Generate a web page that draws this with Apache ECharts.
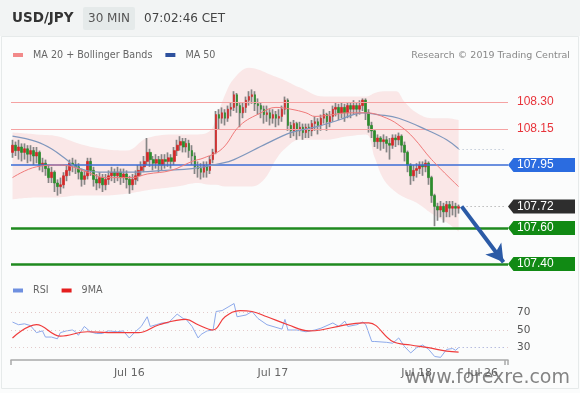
<!DOCTYPE html>
<html><head><meta charset="utf-8">
<script src="https://cdn.jsdelivr.net/npm/echarts@6/dist/echarts.min.js"></script>
<style>html,body{margin:0;padding:0;background:#fbfcfc;}#c{width:580px;height:393px;}</style>
</head><body><div id="c"></div>
<script>
// ---------- DATA ----------
const categoryCount = 166; // 30-minute slots incl. empty future slots
const dayLabels = {39: 'Jul 16', 87: 'Jul 17', 135: 'Jul 18', 157: 'Jul 26'};
// [open, close, low, high]
const ohlc = [
[108.02,108.06,107.99,108.09],[108.06,108.03,108.00,108.08],[108.03,108.05,107.98,108.09],[108.05,108.02,107.97,108.07],
[108.02,108.04,107.98,108.07],[108.04,108.01,107.96,108.06],[108.01,108.03,107.97,108.06],[108.03,108.00,107.95,108.05],
[108.00,108.02,107.96,108.05],[108.02,107.95,107.92,108.03],[107.95,107.96,107.91,107.99],[107.96,107.93,107.89,107.98],
[107.93,107.88,107.85,107.95],[107.88,107.91,107.85,107.94],[107.91,107.85,107.80,107.92],[107.85,107.83,107.78,107.87],
[107.83,107.84,107.79,107.88],[107.84,107.89,107.82,107.91],[107.89,107.92,107.86,107.95],[107.92,107.96,107.89,107.98],
[107.96,107.95,107.91,107.99],[107.95,107.94,107.90,107.98],[107.94,107.91,107.87,107.96],[107.91,107.87,107.83,107.93],
[107.87,107.89,107.84,107.92],[107.89,107.97,107.87,107.99],[107.97,107.92,107.89,107.99],[107.92,107.87,107.83,107.94],
[107.87,107.85,107.81,107.90],[107.85,107.88,107.82,107.91],[107.88,107.84,107.80,107.90],[107.84,107.87,107.81,107.90],
[107.87,107.89,107.84,107.92],[107.89,107.91,107.86,107.94],[107.91,107.89,107.85,107.93],[107.89,107.91,107.86,107.94],
[107.91,107.88,107.84,107.93],[107.88,107.90,107.85,107.93],[107.90,107.87,107.82,107.92],[107.87,107.84,107.79,107.89],
[107.84,107.87,107.81,107.90],[107.87,107.89,107.84,107.92],[107.89,107.92,107.86,107.95],[107.92,107.94,107.89,107.97],
[107.94,107.97,107.91,108.00],[107.97,108.02,107.95,108.10],[108.02,107.98,107.94,108.04],[107.98,107.96,107.92,108.00],
[107.96,107.98,107.93,108.01],[107.98,107.95,107.91,108.00],[107.95,107.98,107.92,108.01],[107.98,107.97,107.93,108.01],
[107.97,107.99,107.94,108.02],[107.99,107.97,107.93,108.01],[107.97,108.03,107.95,108.05],[108.03,108.06,108.00,108.09],
[108.06,108.08,108.03,108.11],[108.08,108.05,108.02,108.10],[108.05,108.07,108.02,108.10],[108.07,108.03,107.99,108.09],
[108.03,108.00,107.95,108.06],[108.00,107.94,107.90,108.02],[107.94,107.93,107.88,107.97],[107.93,107.91,107.87,107.96],
[107.91,107.95,107.88,107.97],[107.95,107.92,107.88,107.97],[107.92,107.98,107.90,108.00],[107.98,108.02,107.96,108.04],
[108.02,108.23,108.01,108.25],[108.23,108.21,108.15,108.26],[108.21,108.24,108.18,108.27],[108.24,108.21,108.17,108.26],
[108.21,108.26,108.19,108.28],[108.26,108.27,108.22,108.30],[108.27,108.34,108.25,108.36],[108.34,108.28,108.24,108.35],
[108.28,108.24,108.16,108.30],[108.24,108.27,108.21,108.30],[108.27,108.31,108.24,108.33],[108.31,108.33,108.28,108.36],
[108.33,108.34,108.29,108.37],[108.34,108.29,108.25,108.36],[108.29,108.28,108.23,108.32],[108.28,108.26,108.21,108.30],
[108.26,108.23,108.18,108.28],[108.23,108.24,108.19,108.28],[108.24,108.21,108.17,108.26],[108.21,108.23,108.18,108.26],
[108.23,108.21,108.16,108.25],[108.21,108.22,108.17,108.26],[108.22,108.26,108.19,108.28],[108.26,108.31,108.23,108.33],
[108.31,108.17,108.14,108.32],[108.17,108.14,108.10,108.19],[108.14,108.18,108.11,108.20],[108.18,108.14,108.09,108.19],
[108.14,108.16,108.11,108.19],[108.16,108.13,108.09,108.18],[108.13,108.16,108.10,108.18],[108.16,108.14,108.10,108.18],
[108.14,108.18,108.11,108.20],[108.18,108.19,108.14,108.22],[108.19,108.17,108.12,108.21],[108.17,108.21,108.14,108.23],
[108.21,108.23,108.18,108.26],[108.23,108.19,108.14,108.24],[108.19,108.22,108.16,108.25],[108.22,108.26,108.19,108.28],
[108.26,108.27,108.22,108.30],[108.27,108.24,108.20,108.29],[108.24,108.27,108.21,108.30],[108.27,108.24,108.19,108.29],
[108.24,108.28,108.21,108.30],[108.28,108.26,108.21,108.30],[108.26,108.28,108.23,108.31],[108.28,108.26,108.22,108.30],
[108.26,108.28,108.23,108.31],[108.28,108.31,108.25,108.32],[108.31,108.24,108.20,108.32],[108.24,108.17,108.13,108.26],
[108.17,108.14,108.10,108.19],[108.14,108.08,108.05,108.15],[108.08,108.10,108.04,108.12],[108.10,108.08,108.03,108.11],
[108.08,108.09,108.04,108.12],[108.09,108.07,108.02,108.11],[108.07,108.06,107.98,108.10],[108.06,108.10,108.04,108.12],
[108.10,108.09,108.05,108.12],[108.09,108.11,108.06,108.13],[108.11,108.06,108.02,108.12],[108.06,108.02,107.97,108.08],
[108.02,107.95,107.91,108.03],[107.95,107.89,107.84,107.96],[107.89,107.92,107.86,107.95],[107.92,107.93,107.88,107.96],
[107.93,107.95,107.90,107.97],[107.95,107.94,107.89,107.97],[107.94,107.96,107.91,107.98],[107.96,107.88,107.84,107.97],
[107.88,107.78,107.74,107.89],[107.78,107.72,107.61,107.79],[107.72,107.70,107.64,107.74],[107.70,107.72,107.66,107.75],
[107.72,107.69,107.63,107.74],[107.69,107.73,107.66,107.75],[107.73,107.71,107.66,107.75],[107.71,107.72,107.67,107.75],
[107.72,107.71,107.66,107.74],[107.71,107.72,107.68,107.73]
];
// sampled indicator values: [slot index, value]
const ma20Pts = [[0,107.88],[8,107.94],[16,107.95],[20,107.94],[25,107.91],[31,107.88],[40,107.88],[45,107.90],[53,107.92],[60,107.97],[64,107.99],[70,108.04],[76,108.17],[83,108.24],[88,108.27],[93,108.26],[98,108.24],[101,108.22],[107,108.23],[112,108.24],[118,108.24],[125,108.21],[130,108.16],[134,108.10],[140,107.98],[149,107.83]];
const ma50Pts = [[0,108.11],[8,108.08],[13,108.04],[18,107.98],[21,107.94],[29,107.91],[40,107.91],[51,107.92],[60,107.93],[70,107.96],[74,107.98],[85,108.07],[93,108.13],[101,108.16],[109,108.20],[117,108.24],[122,108.23],[129,108.21],[139,108.14],[145,108.09],[149,108.04]];
const bbIdx   = [0,8,15,22,30,38,45,55,62,66,68,71,74,79,82,85,88,91,96,104,112,118,121,124,128,131,135,140,145,149];
const bbUpper = [108.13,108.12,108.11,108.07,108.04,108.03,108.10,108.12,108.12,108.14,108.21,108.34,108.43,108.49,108.48,108.46,108.44,108.42,108.38,108.33,108.33,108.33,108.35,108.36,108.36,108.30,108.24,108.21,108.21,108.20];
const bbLower = [107.76,107.77,107.77,107.78,107.78,107.79,107.81,107.83,107.85,107.84,107.84,107.83,107.83,107.83,107.84,107.89,107.98,108.04,108.09,108.09,108.11,108.12,107.99,107.87,107.80,107.77,107.74,107.68,107.63,107.58];
const rsiPts = [[0,59],[2,56],[4,57],[6,55],[8,47],[10,49],[11,42],[13,42],[15,40],[16,47],[18,49],[20,50],[21,48],[22,44],[24,54],[26,48],[28,46],[30,46],[32,49],[35,48],[37,49],[39,41],[41,48],[43,54],[45,65],[46,54],[48,56],[50,58],[52,58],[55,68],[57,63],[58,62],[60,54],[62,41],[63,45],[65,49],[67,50],[68,71],[70,72],[72,76],[74,80],[75,65],[78,67],[80,71],[82,63],[85,56],[88,53],[90,51],[91,62],[92,50],[95,50],[98,48],[101,50],[103,52],[107,58],[109,54],[111,60],[112,54],[115,56],[117,59],[118,56],[120,37],[121,37],[125,36],[127,35],[129,41],[131,31],[133,24],[135,30],[137,33],[139,28],[141,20],[143,19],[145,28],[147,29],[148,27],[149,30]];
const rsiMaPts = [[0,41],[8,56],[16,43],[25,48],[32,47],[42,47],[49,56],[58,62],[62,56],[67,50],[71,65],[76,72],[80,71],[85,65],[92,56],[99,49],[103,50],[110,55],[117,58],[119,58],[127,37],[133,33],[139,30],[145,26],[149,25]];
const rsiLevels = [70, 50, 30];
const levels = [
  {value: 108.30, text: '108.30', kind: 'resistance'},
  {value: 108.15, text: '108.15', kind: 'resistance'},
  {value: 107.95, text: '107.95', kind: 'pivot'},
  {value: 107.72, text: '107.72', kind: 'last'},
  {value: 107.60, text: '107.60', kind: 'support'},
  {value: 107.40, text: '107.40', kind: 'support'}
];
const lastIndex = 149;
const lastPrice = 107.72;
const arrowEnd = [164, 107.41];
const lastMa50 = 108.04;
const lastRsi = 30;

// ---------- CHART ----------
const cats = Array.from({length: categoryCount}, (_, i) => String(i));
const FONT = 'DejaVu Sans';
const chart = echarts.init(document.getElementById('c'), null, {renderer: 'canvas'});
const boxColor = {pivot: '#2b6ce0', last: '#2e2e2e', support: '#118a14'};

const option = {
  animation: false,
  backgroundColor: '#fbfcfc',
  grid: [
    {left: 11, right: 72, top: 57, height: 216},
    {left: 11, right: 72, top: 300, height: 60}
  ],
  xAxis: [
    {type: 'category', gridIndex: 0, data: cats, boundaryGap: true, show: false},
    {type: 'category', gridIndex: 1, data: cats, boundaryGap: true,
     axisLine: {lineStyle: {color: '#a9a9a9', width: 1.5}},
     axisTick: {show: true, length: 5, interval: (i) => i === 0 || i === categoryCount - 1, lineStyle: {color: '#a9a9a9', width: 1.5}},
     axisLabel: {interval: (i) => dayLabels[i] !== undefined, formatter: (v, i) => dayLabels[i] || '',
       color: '#666', fontSize: 11, fontFamily: FONT, margin: 8},
     splitLine: {show: false}}
  ],
  yAxis: [
    {type: 'value', gridIndex: 0, min: 107.35, max: 108.55, show: false},
    {type: 'value', gridIndex: 1, min: 16, max: 84, show: false}
  ],
  legend: [
    {left: 13, top: 50, padding: 0, icon: 'rect', itemWidth: 10, itemHeight: 4, itemGap: 13, selectedMode: false,
     textStyle: {fontSize: 9.6, color: '#666', fontFamily: FONT, padding: [0, 0, 0, 5]},
     data: [{name: 'MA 20 + Bollinger Bands', itemStyle: {color: '#f28a8a'}}, {name: 'MA 50', itemStyle: {color: '#2e519e'}}]},
    {left: 13, top: 285.5, padding: 0, icon: 'rect', itemWidth: 10, itemHeight: 4, itemGap: 13, selectedMode: false,
     textStyle: {fontSize: 9.6, color: '#666', fontFamily: FONT, padding: [0, 0, 0, 5]},
     data: [{name: 'RSI', itemStyle: {color: '#6f90e0'}}, {name: '9MA', itemStyle: {color: '#e41e1e'}}]}
  ],
  series: [
    {name: 'BB lower', type: 'line', xAxisIndex: 0, yAxisIndex: 0, stack: 'bb', symbol: 'none', smooth: 0.4, silent: true, z: 1,
     lineStyle: {opacity: 0}, data: bbIdx.map((x, k) => [x, bbLower[k]])},
    {name: 'BB band', type: 'line', xAxisIndex: 0, yAxisIndex: 0, stack: 'bb', symbol: 'none', smooth: 0.4, silent: true, z: 1,
     lineStyle: {opacity: 0}, areaStyle: {color: 'rgba(246,165,165,0.33)'},
     data: bbIdx.map((x, k) => [x, +(bbUpper[k] - bbLower[k]).toFixed(3)])},
    {name: 'wicks', type: 'candlestick', xAxisIndex: 0, yAxisIndex: 0, barWidth: 1, z: 3,
     itemStyle: {color: '#858585', color0: '#858585', borderColor: '#858585', borderColor0: '#858585', borderWidth: 1.7},
     data: ohlc,
     markLine: {silent: true, symbol: 'none', label: {show: false}, animation: false,
       data: [
         {yAxis: levels[0].value, lineStyle: {color: '#f5a2a2', width: 1, type: 'solid'}},
         {yAxis: levels[1].value, lineStyle: {color: '#f5a2a2', width: 1, type: 'solid'}},
         {yAxis: levels[2].value, lineStyle: {color: '#3b6cd6', width: 1.5, type: 'solid'}},
         {yAxis: levels[4].value, lineStyle: {color: '#1f8a1f', width: 2.5, type: 'solid'}},
         {yAxis: levels[5].value, lineStyle: {color: '#1f8a1f', width: 2.5, type: 'solid'}},
         [{coord: [lastIndex, lastPrice], lineStyle: {color: '#999', width: 1, type: [1, 3]}},
          {coord: [categoryCount - 1, lastPrice], lineStyle: {color: '#999', width: 1, type: [1, 3]}}],
         [{coord: [lastIndex, lastMa50], lineStyle: {color: '#a9b6c8', width: 1, type: [1, 3]}},
          {coord: [categoryCount - 2, lastMa50], lineStyle: {color: '#a9b6c8', width: 1, type: [1, 3]}}]
       ]}},
    {name: 'bodies', type: 'candlestick', xAxisIndex: 0, yAxisIndex: 0, barWidth: 2.2, z: 4,
     itemStyle: {color: '#d42828', color0: '#2c8c2c', borderColor: '#d42828', borderColor0: '#2c8c2c', borderWidth: 0.7},
     data: ohlc.map(([o, c]) => [o, c, Math.min(o, c), Math.max(o, c)])},
    {name: 'MA 50', type: 'line', xAxisIndex: 0, yAxisIndex: 0, symbol: 'none', smooth: 0.4, z: 5,
     lineStyle: {color: '#7f97bd', width: 1.2}, itemStyle: {color: '#7f97bd'}, data: ma50Pts},
    {name: 'MA 20 + Bollinger Bands', type: 'line', xAxisIndex: 0, yAxisIndex: 0, symbol: 'none', smooth: 0.4, z: 5,
     lineStyle: {color: '#f07a7a', width: 1}, itemStyle: {color: '#f07a7a'}, data: ma20Pts},
    {name: 'arrow', type: 'line', xAxisIndex: 0, yAxisIndex: 0, data: [], z: 8,
     markLine: {silent: true, animation: false, label: {show: false},
       data: [[{coord: [lastIndex + 1, lastPrice], symbol: 'none'},
               {coord: arrowEnd, symbol: 'arrow', symbolSize: [15, 17]}]],
       lineStyle: {color: '#2b5aa6', width: 4, type: 'solid'}}},
    {name: 'level labels', type: 'custom', xAxisIndex: 0, yAxisIndex: 0, clip: false, z: 10, silent: true,
     data: levels.map(l => [0, l.value]),
     renderItem: function (params, api) {
       const lv = levels[params.dataIndex];
       const y = api.coord([0, api.value(1)])[1];
       const x0 = params.coordSys.x + params.coordSys.width;
       if (lv.kind === 'resistance') {
         return {type: 'text', x: x0 + 9, y: y,
           style: {text: lv.text, fill: '#e8333a', font: '12px "Liberation Sans"', align: 'left', verticalAlign: 'middle'}};
       }
       return {type: 'group', children: [
         {type: 'polygon', shape: {points: [[x0, y], [x0 + 5.5, y - 7], [x0 + 67, y - 7], [x0 + 67, y + 7], [x0 + 5.5, y + 7]]},
          style: {fill: boxColor[lv.kind]}},
         {type: 'text', x: x0 + 9, y: y,
          style: {text: lv.text, fill: '#ffffff', font: '12px "Liberation Sans"', align: 'left', verticalAlign: 'middle'}}
       ]};
     }},
    {name: 'RSI', type: 'line', xAxisIndex: 1, yAxisIndex: 1, symbol: 'none', z: 4,
     lineStyle: {color: '#8eaaeb', width: 1}, itemStyle: {color: '#8eaaeb'}, data: rsiPts,
     markLine: {silent: true, symbol: 'none', animation: false,
       label: {show: true, position: 'end', distance: 9, color: '#555', fontSize: 10.5, fontFamily: FONT, formatter: '{c}'},
       lineStyle: {color: '#e3caca', width: 1, type: [1, 3]},
       data: rsiLevels.map(v => ({yAxis: v})).concat([[
         {coord: [lastIndex, lastRsi], lineStyle: {color: '#9fb3e6', width: 1, type: [1, 3]}, label: {show: false}},
         {coord: [categoryCount - 1, lastRsi], lineStyle: {color: '#9fb3e6', width: 1, type: [1, 3]}, label: {show: false}}
       ]])}},
    {name: '9MA', type: 'line', xAxisIndex: 1, yAxisIndex: 1, symbol: 'none', smooth: 0.4, z: 5,
     lineStyle: {color: '#f03c3c', width: 1.2}, itemStyle: {color: '#f03c3c'}, data: rsiMaPts}
  ],
  graphic: [
    {type: 'rect', z: -10, shape: {x: 0, y: 0, width: 580, height: 36}, style: {fill: '#f2f4f4'}},
    {type: 'rect', z: -10, shape: {x: 1.5, y: 36.5, width: 577, height: 352}, style: {fill: 'none', stroke: '#e6eaea', lineWidth: 1}},
    {type: 'rect', z: -9, shape: {x: 83, y: 7, width: 52, height: 23, r: 2}, style: {fill: '#e5eaea'}},
    {type: 'text', x: 12, y: 18.5, style: {text: 'USD/JPY', font: 'bold 13.5px "DejaVu Sans"', fill: '#333', verticalAlign: 'middle'}},
    {type: 'text', x: 109, y: 18.5, style: {text: '30 MIN', font: '12px "DejaVu Sans"', fill: '#555', align: 'center', verticalAlign: 'middle'}},
    {type: 'text', x: 144, y: 18.5, style: {text: '07:02:46 CET', font: '12px "DejaVu Sans"', fill: '#444', verticalAlign: 'middle'}},
    {type: 'text', x: 570, y: 56, style: {text: 'Research © 2019 Trading Central', font: '9.5px "DejaVu Sans"', fill: '#888', align: 'right', verticalAlign: 'middle'}},
    {type: 'text', x: 570, y: 378, z: 100, style: {text: 'www.forexre.com', font: '19px "DejaVu Sans"', fill: 'rgba(85,85,85,0.72)', align: 'right', verticalAlign: 'middle'}}
  ]
};
chart.setOption(option);
</script>
</body></html>
